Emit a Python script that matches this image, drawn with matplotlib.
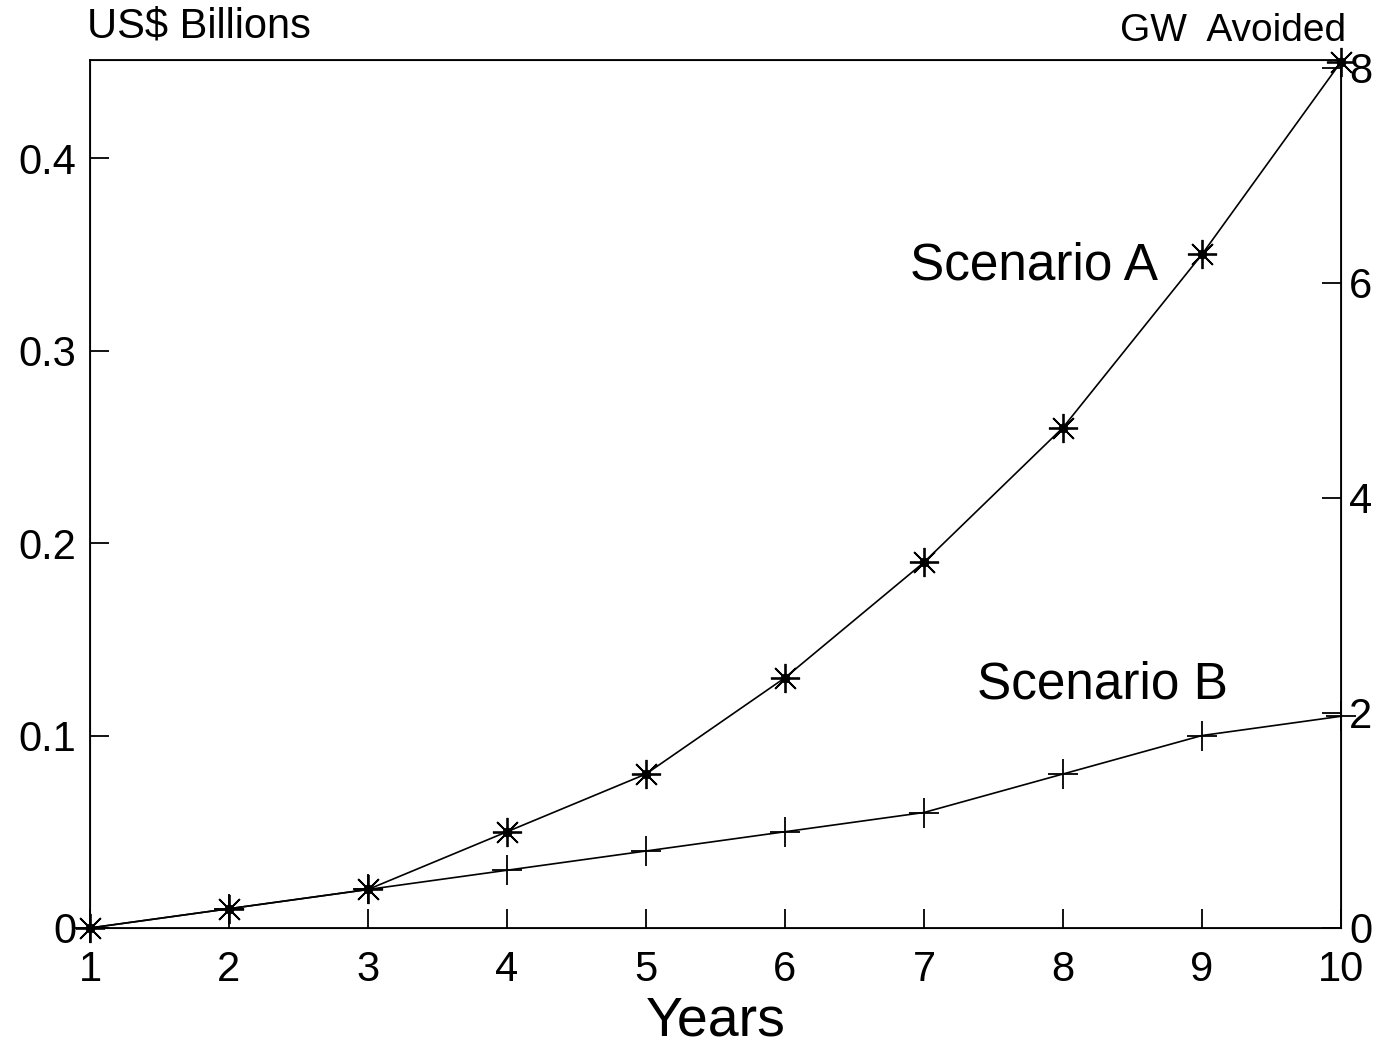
import numpy as np
import matplotlib
matplotlib.use('Agg')
from matplotlib import pyplot as plt

plt.rcParams['font.family'] = ['Liberation Sans', 'DejaVu Sans']

# datos
years = [1, 2, 3, 4, 5, 6, 7, 8, 9, 10]
scen_a = [0.0, 0.01, 0.02, 0.05, 0.08, 0.13, 0.19, 0.26, 0.35, 0.45]
scen_b = [0.0, 0.01, 0.02, 0.03, 0.04, 0.05, 0.06, 0.08, 0.10, 0.11]
left_ticks = [0, 0.1, 0.2, 0.3, 0.4]
left_labels = ['0', '0.1', '0.2', '0.3', '0.4']
right_ticks = [0, 2, 4, 6, 8]

fig = plt.figure(figsize=(13.86, 10.55), dpi=100)
ax = fig.add_axes([0.0649, 0.1204, 0.9026, 0.8227])

ax.plot(years, scen_a, color='black', lw=1.2)
ax.plot(years, scen_a, ls='none', marker=(8, 2, 0), ms=21, mec='black', mew=1.3, clip_on=False)
ax.plot(years, scen_a, ls='none', marker='o', ms=6, color='black', clip_on=False)
ax.plot(years, scen_b, color='black', lw=1.2)
ax.plot(years, scen_b, ls='none', marker='+', ms=21, mec='black', mew=1.3, clip_on=False)

ax.set_xlim(1, 10)
ax.set_ylim(0, 0.451)
ax.set_xticks(years)
ax.set_yticks(left_ticks)
ax.set_yticklabels(left_labels)
ax.tick_params(axis='both', direction='in', length=14, width=1.3, labelsize=30)
ax.tick_params(axis='x', pad=16)
ax.tick_params(axis='y', pad=10)
for s in ax.spines.values():
    s.set_linewidth(1.3)

ax2 = ax.twinx()
ax2.set_ylim(0, 8.07)
ax2.set_yticks(right_ticks)
ax2.tick_params(axis='y', direction='in', length=14, width=1.3, labelsize=30, pad=6)

ax.text(6.9, 0.344, 'Scenario A', fontsize=37, va='center', ha='left')
ax.text(7.38, 0.126, 'Scenario B', fontsize=37, va='center', ha='left')

fig.text(0.063, 0.975, 'US$ Billions', fontsize=30, ha='left', va='center')
fig.text(0.971, 0.971, 'GW  Avoided', fontsize=28, ha='right', va='center')
ax.set_xlabel('Years', fontsize=40, labelpad=4)

plt.savefig('out.png', dpi=100)
